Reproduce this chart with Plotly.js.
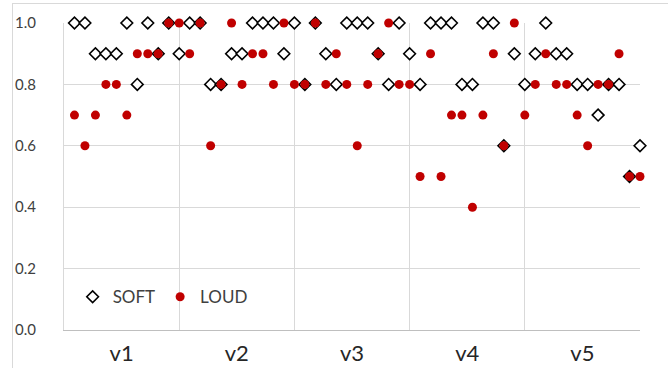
<!DOCTYPE html>
<html>
<head>
<meta charset="utf-8">
<script src="https://cdn.plot.ly/plotly-3.0.1.min.js"></script>
<style>
  html, body { margin: 0; padding: 0; background: #ffffff; }
  #wrap { position: relative; width: 668px; height: 368px; overflow: hidden; }
  #chart { width: 668px; height: 368px; }
  #frame { position: absolute; left: 12px; top: 3px; width: 700px; height: 400px;
           border-left: 1px solid #d9d9d9; border-top: 1px solid #d9d9d9; pointer-events: none; }
</style>
</head>
<body>
<div id="wrap">
  <div id="chart"></div>
  <div id="frame"></div>
</div>
<script>
// Category labels (each category holds 11 consecutive points)
const categories = ['v1', 'v2', 'v3', 'v4', 'v5'];
const pointsPerCategory = 11;

// SOFT series values (55 points, in order)
const softValues = [
  1.0, 1.0, 0.9, 0.9, 0.9, 1.0, 0.8, 1.0, 0.9, 1.0,
  0.9, 1.0, 1.0, 0.8, 0.8, 0.9, 0.9, 1.0, 1.0, 1.0, 0.9, 1.0,
  0.8, 1.0, 0.9, 0.8, 1.0, 1.0, 1.0, 0.9, 0.8, 1.0, 0.9,
  0.8, 1.0, 1.0, 1.0, 0.8, 0.8, 1.0, 1.0, 0.6, 0.9, 0.8,
  0.9, 1.0, 0.9, 0.9, 0.8, 0.8, 0.7, 0.8, 0.8, 0.5, 0.6
];

// LOUD series values (55 points, in order)
const loudValues = [
  0.7, 0.6, 0.7, 0.8, 0.8, 0.7, 0.9, 0.9, 0.9, 1.0,
  1.0, 0.9, 1.0, 0.6, 0.8, 1.0, 0.8, 0.9, 0.9, 0.8, 1.0, 0.8,
  0.8, 1.0, 0.8, 0.9, 0.8, 0.6, 0.8, 0.9, 1.0, 0.8, 0.8,
  0.5, 0.9, 0.5, 0.7, 0.7, 0.4, 0.7, 0.9, 0.6, 1.0, 0.7,
  0.8, 0.9, 0.8, 0.8, 0.7, 0.6, 0.8, 0.8, 0.9, 0.5, 0.5
];

const seriesNames = ['SOFT', 'LOUD'];

const xIndex = softValues.map((_, i) => i + 1);
const nPoints = categories.length * pointsPerCategory;
const catCenters = categories.map((_, i) => i * pointsPerCategory + pointsPerCategory / 2);

const FONT = 'Lato, "Open Sans", "Liberation Sans", sans-serif';

const traces = [
  {
    type: 'scatter', mode: 'markers', name: seriesNames[0],
    x: xIndex, y: softValues, cliponaxis: false,
    marker: { symbol: 'diamond', size: 9, color: '#ffffff', line: { color: '#000000', width: 1.6 } }
  },
  {
    type: 'scatter', mode: 'markers', name: seriesNames[1],
    x: xIndex, y: loudValues, cliponaxis: false,
    marker: { symbol: 'circle', size: 9, color: '#c00000', line: { width: 0 } }
  }
];

const layout = {
  width: 668, height: 368,
  margin: { l: 64, r: 28, t: 23, b: 38 },
  paper_bgcolor: '#ffffff', plot_bgcolor: '#ffffff',
  font: { family: FONT, color: '#595959' },
  showlegend: true,
  legend: {
    orientation: 'h', x: 0.015, y: 0.107, xanchor: 'left', yanchor: 'middle',
    bgcolor: 'rgba(0,0,0,0)', font: { family: FONT, size: 17, color: '#404040' },
    traceorder: 'normal'
  },
  xaxis: {
    range: [0, nPoints], fixedrange: true,
    tickmode: 'array', tickvals: catCenters, ticktext: categories,
    showgrid: false, zeroline: false,
    showline: true, linecolor: '#bfbfbf', linewidth: 1,
    ticks: 'outside', ticklen: 4, tickcolor: 'rgba(0,0,0,0)',
    tickfont: { family: FONT, size: 22, color: '#262626' },
    minor: { tick0: 0, dtick: pointsPerCategory, showgrid: true, gridcolor: '#d9d9d9', gridwidth: 1, ticks: '' }
  },
  yaxis: {
    range: [0, 1], fixedrange: true,
    tick0: 0, dtick: 0.2, tickformat: '.1f',
    showgrid: true, gridcolor: '#d9d9d9', gridwidth: 1,
    zeroline: false, showline: true, linecolor: '#d9d9d9', linewidth: 1,
    ticks: 'outside', ticklen: 24, tickcolor: 'rgba(0,0,0,0)',
    tickfont: { family: FONT, size: 15, color: '#404040' }
  }
};

Plotly.newPlot('chart', traces, layout, { staticPlot: true, displayModeBar: false });
</script>
</body>
</html>
